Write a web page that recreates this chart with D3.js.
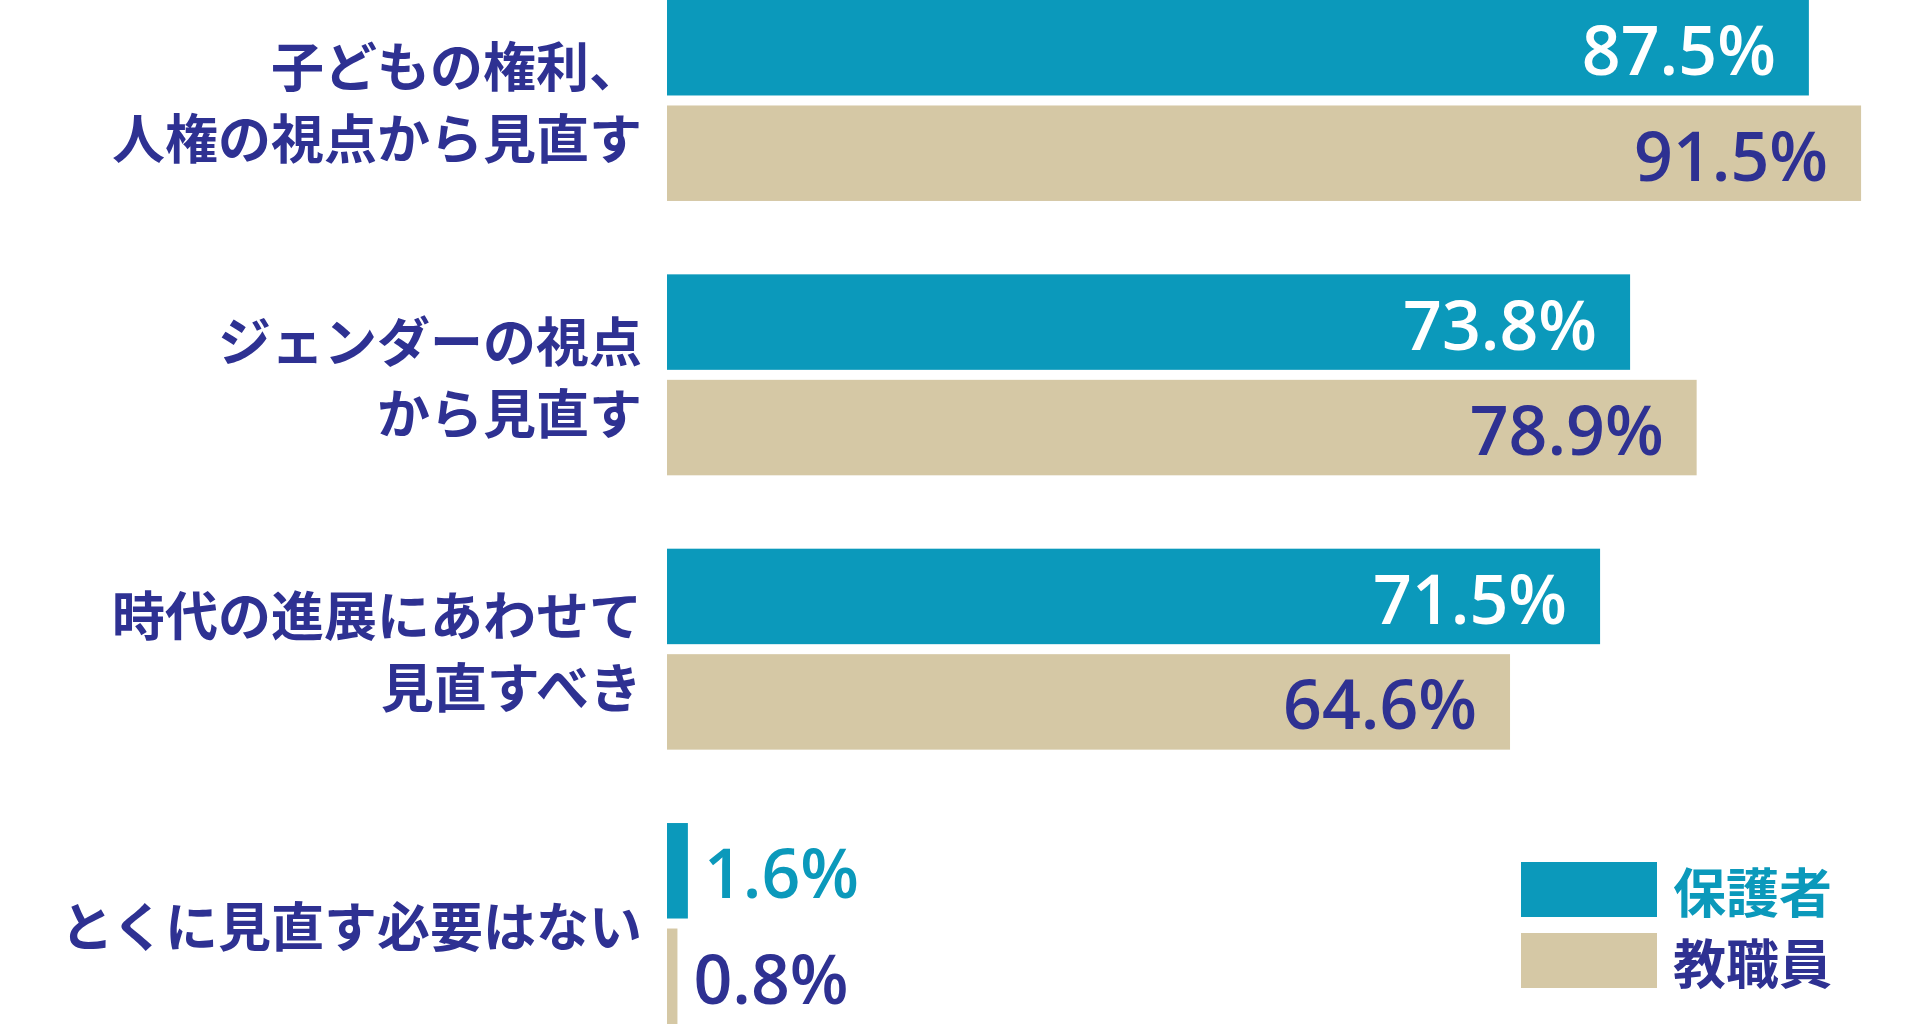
<!DOCTYPE html>
<html>
<head>
<meta charset="utf-8">
<script src="https://cdn.jsdelivr.net/npm/d3@7"></script>
<style>
  html, body { margin: 0; padding: 0; background: #ffffff; }
  svg { display: block; }
</style>
</head>
<body>
<div id="chart"></div>
<script>
// ---- data ----
const categories = [
  "子どもの権利、\n人権の視点から見直す",
  "ジェンダーの視点\nから見直す",
  "時代の進展にあわせて\n見直すべき",
  "とくに見直す必要はない"
];
const seriesNames = ["保護者", "教職員"];
const parentValues = [87.5, 73.8, 71.5, 1.6];
const staffValues = [91.5, 78.9, 64.6, 0.8];

// ---- styles ----
const W = 1920, H = 1024;
const TEAL = "#0b99bb";
const BEIGE = "#d5c8a5";
const NAVY = "#2e3192";
const colors = { "保護者": TEAL, "教職員": BEIGE };
const jpFont = "'Noto Sans CJK JP', 'Noto Sans', sans-serif";
const numFont = "'Open Sans', 'Noto Sans', sans-serif";

const svg = d3.select("#chart").append("svg")
  .attr("width", W).attr("height", H);

const x = d3.scaleLinear().domain([0, 100]).range([667, 1972]);
const y = d3.scaleBand().domain(categories).range([0, 1024])
  .paddingInner(0.2675).paddingOuter(0);
const ySub = d3.scaleBand().domain(seriesNames).range([0, y.bandwidth()])
  .paddingInner(0.0948).paddingOuter(0);

const rows = [];
categories.forEach((c, i) => {
  rows.push({ cat: c, series: "保護者", value: parentValues[i] });
  rows.push({ cat: c, series: "教職員", value: staffValues[i] });
});

// bars
svg.append("g").selectAll("rect").data(rows).join("rect")
  .attr("x", x(0))
  .attr("y", d => y(d.cat) + ySub(d.series))
  .attr("width", d => x(d.value) - x(0))
  .attr("height", ySub.bandwidth())
  .attr("fill", d => colors[d.series]);

// value labels
const numSize = 68;
svg.append("g").selectAll("text").data(rows).join("text")
  .attr("font-family", numFont)
  .attr("font-weight", 600)
  .attr("font-size", numSize)
  .attr("text-anchor", d => d.value < 10 ? "start" : "end")
  .attr("x", d => d.value < 10 ? x(d.value) + 16 : x(d.value) - 33)
  .attr("y", d => y(d.cat) + ySub(d.series) + ySub.bandwidth() / 2 + numSize * 0.36 + 3)
  .attr("fill", d => {
    if (d.value < 10) return d.series === "保護者" ? TEAL : NAVY;
    return d.series === "保護者" ? "#ffffff" : NAVY;
  })
  .text(d => d.value.toFixed(1) + "%");

// category labels
const lblSize = 53, lineH = 72;
const lg = svg.append("g");
categories.forEach(c => {
  const lines = c.split("\n");
  const cy = y(c) + y.bandwidth() / 2;
  const t = lg.append("text")
    .attr("font-family", jpFont)
    .attr("font-weight", 700)
    .attr("font-size", lblSize)
    .attr("fill", NAVY)
    .attr("text-anchor", "end");
  lines.forEach((ln, j) => {
    t.append("tspan")
      .attr("x", 642)
      .attr("y", cy + (j - (lines.length - 1) / 2) * lineH)
      .attr("dominant-baseline", "central")
      .text(ln);
  });
});

// legend
const legend = svg.append("g");
const legY = { "保護者": 862, "教職員": 933 };
seriesNames.forEach(s => {
  legend.append("rect")
    .attr("x", 1521).attr("y", legY[s])
    .attr("width", 136).attr("height", 55)
    .attr("fill", colors[s]);
  legend.append("text")
    .attr("x", 1673).attr("y", legY[s] + 28)
    .attr("dominant-baseline", "central")
    .attr("font-family", jpFont)
    .attr("font-weight", 700)
    .attr("font-size", 53)
    .attr("fill", s === "保護者" ? TEAL : NAVY)
    .text(s);
});
</script>
</body>
</html>
